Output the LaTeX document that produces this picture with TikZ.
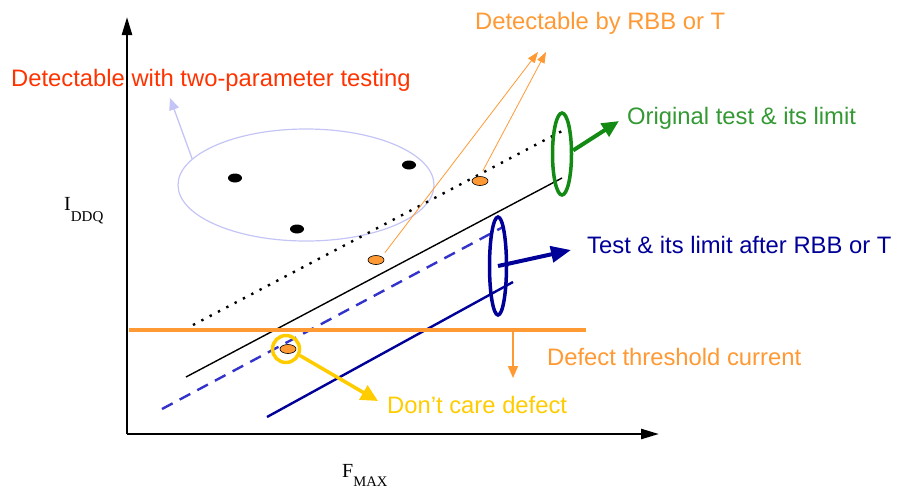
\documentclass[tikz,border=0pt]{standalone}
\usepackage{fontspec}
\setmainfont{Liberation Sans}
\newfontfamily\seriffam{Liberation Serif}
\usetikzlibrary{arrows.meta,shapes.geometric}
\definecolor{redtxt}{HTML}{FF3300}
\definecolor{lav}{HTML}{C4C4F6}
\definecolor{dorange}{HTML}{FF9933}
\definecolor{greenln}{HTML}{138A13}
\definecolor{greentxt}{HTML}{339933}
\definecolor{dblue}{HTML}{000099}
\definecolor{mblue}{HTML}{3333CC}
\definecolor{yel}{HTML}{FFCC00}
\begin{document}
\begin{tikzpicture}[x=1pt,y=-1pt,
  lbl/.style={anchor=base west, inner sep=0pt, font=\fontsize{23.8}{28}\selectfont},
  axlbl/.style={anchor=base west, inner sep=0pt, font=\seriffam\fontsize{20}{24}\selectfont},
  blackdot/.style={ellipse, fill=black, minimum width=14pt, minimum height=9pt, inner sep=0pt},
  odot/.style={ellipse, fill=dorange, draw=black, line width=0.6pt, minimum width=16pt, minimum height=9pt, inner sep=0pt},
  ring/.style={ellipse, inner sep=0pt, line width=3.5pt}]
\useasboundingbox (0,0) rectangle (902,491);

% axes
\coordinate (O) at (127,434);
\coordinate (ytip) at (127,17);
\coordinate (xtip) at (659,434);
\draw[line width=2.5pt, -{Triangle[length=18pt,width=10pt]}] (O) -- (ytip);
\draw[line width=2.5pt, -{Triangle[length=18pt,width=10pt]}] (O) -- (xtip);
\node[axlbl] (iddq) at (64,210) {I\raisebox{-11pt}{\fontsize{15}{17}\selectfont DDQ}};
\node[axlbl] (fmax) at (342,477) {F\raisebox{-9pt}{\fontsize{14.6}{17}\selectfont MAX}};

% lavender ellipse and pointer
\node[ellipse, draw=lav, line width=1.2pt, minimum width=256pt, minimum height=112pt, inner sep=0pt] (cloud) at (306,185) {};
\coordinate (lavtip) at (170,98);
\draw[lav, line width=1.3pt, -{Triangle[length=12pt,width=10pt]}] (cloud.167) -- (lavtip);
\node[lbl, text=redtxt] (twopar) at (11,86) {Detectable with two-parameter testing};

% black dots
\node[blackdot] (b1) at (235,178) {};
\node[blackdot] (b2) at (409,165) {};
\node[blackdot] (b3) at (297,229) {};

% lines
\coordinate (dA) at (193,325);
\coordinate (dB) at (562,131);
\draw[line width=2.4pt, dash pattern=on 2.4pt off 7pt] (dA) -- (dB);
\coordinate (sA) at (186,377);
\coordinate (sB) at (562,178);
\draw[line width=1.4pt] (sA) -- (sB);
\coordinate (mA) at (162,409);
\coordinate (mB) at (503,227);
\draw[mblue, line width=2.4pt, dash pattern=on 12pt off 8pt] (mA) -- (mB);
\coordinate (nA) at (267,417);
\coordinate (nB) at (513,282);
\draw[dblue, line width=2.4pt] (nA) -- (nB);

% orange threshold
\coordinate (hA) at (129,330);
\coordinate (hB) at (586,330);
\draw[dorange, line width=4pt] (hA) -- (hB);
\coordinate (hdrop) at (513,330);
\coordinate (hdroptip) at (513,378);
\draw[dorange, line width=1.5pt, -{Triangle[length=12pt,width=10pt]}] (hdrop) -- (hdroptip);
\node[lbl, text=dorange] (thr) at (547,365) {Defect threshold current};

% orange defects and RBB arrows
\node[odot] (o1) at (376,260) {};
\node[odot] (o2) at (480,181) {};
\node[odot] (o3) at (288,349) {};
\coordinate (rt1) at (538,52);
\coordinate (rt2) at (546,52);
\draw[dorange, line width=0.8pt, shorten <=5pt, -{Triangle[length=11pt,width=8pt]}] (o1.north east) -- (rt1);
\draw[dorange, line width=0.8pt, shorten <=6pt, -{Triangle[length=11pt,width=8pt]}] (o2.north) -- (rt2);
\node[lbl, text=dorange] (rbb) at (475,29) {Detectable by RBB or T};

% green ring
\node[ring, draw=greenln, minimum width=19pt, minimum height=82pt] (gring) at (562,154) {};
\coordinate (gtip) at (619,121);
\draw[greenln, line width=4pt, -{Triangle[length=17pt,width=15pt]}] (gring.18) -- (gtip);
\node[lbl, text=greentxt] (orig) at (627,124) {Original test \& its limit};

% dark blue ring
\node[ring, draw=dblue, minimum width=17pt, minimum height=98pt] (bring) at (498,266) {};
\coordinate (btip) at (571,250);
\draw[dblue, line width=4pt, -{Triangle[length=20pt,width=16pt]}] (bring.center) -- (btip);
\node[lbl, text=dblue] (after) at (587,253) {Test \& its limit after RBB or T};

% yellow circle
\node[circle, draw=yel, line width=3.5pt, minimum size=27pt, inner sep=0pt] (ycirc) at (286,349) {};
\coordinate (ytip2) at (378,401);
\draw[yel, line width=3.5pt, -{Triangle[length=17pt,width=16pt]}] (ycirc.-25) -- (ytip2);
\node[lbl, text=yel] (dont) at (387,413) {Don’t care defect};
\end{tikzpicture}
\end{document}
